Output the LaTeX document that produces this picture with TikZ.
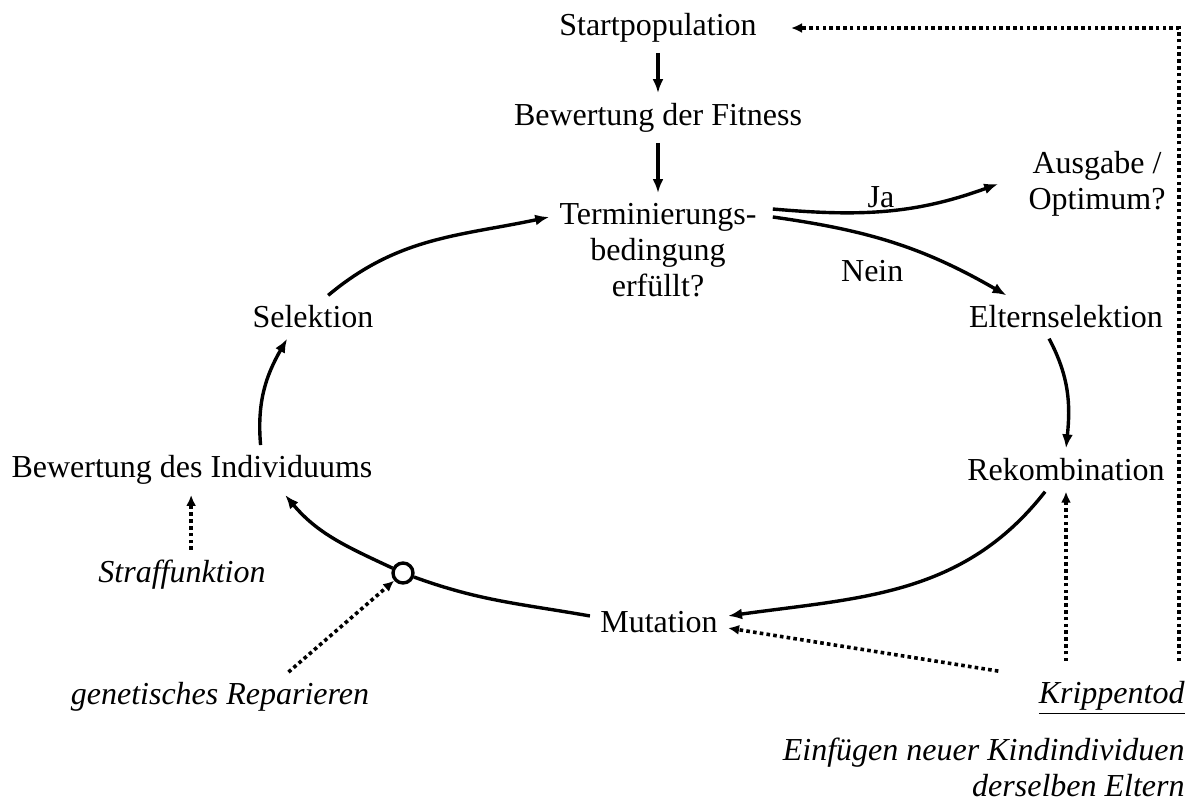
\documentclass[tikz,border=0pt]{standalone}
\usepackage{fontspec}
\setmainfont{Liberation Serif}
\usetikzlibrary{arrows.meta}

\begin{document}
\begin{tikzpicture}[x=0.5pt,y=0.5pt,
                font=\fontsize{16}{18}\selectfont,
                every node/.style={inner sep=5pt},
                flow/.style={line width=1.7pt,-{Latex[length=7pt,width=5.5pt]}},
                hint/.style={line width=1.8pt,dash pattern=on 1.8pt off 1.6pt,-{Latex[length=5.5pt,width=5pt]}}]
                \useasboundingbox (0,0) rectangle (1195,-810);
                \node (start) at (658,-28) {Startpopulation};
                \node (fitness) at (658,-118) {Bewertung der Fitness};
                \node[anchor=north,align=center] (term) at (658,-193) {Terminierungs-\\bedingung\\erfüllt?};
                \node[anchor=north,align=center] (output) at (1097,-141) {Ausgabe /\\Optimum?};
                \node (eltern) at (1066,-317) {Elternselektion};
                \node (rekomb) at (1066,-470) {Rekombination};
                \node (mut) at (659,-622) {Mutation};
                \node (indiv) at (192,-470) {Bewertung des Individuums};
                \node (sel) at (313,-317) {Selektion};
                \node (straf) at (182,-575) {\textit{Straffunktion}};
                \node (gen) at (220,-697) {\textit{genetisches Reparieren}};
                \node[anchor=east] (krip) at (1195,-698) {\underline{\textit{Krippentod}}};
                \node[anchor=north east,align=right] (einf) at (1195,-728) {\textit{Einfügen neuer Kindindividuen}\\\textit{derselben Eltern}};
                \node[circle,draw,fill=white,line width=1.7pt,minimum size=10pt,inner sep=0pt] (repair) at (403,-573) {};
                % main loop
                \draw[flow] (start) -- (fitness);
                \draw[flow] (fitness) -- (term);
                \draw[flow] ([xshift=3pt,yshift=-8pt]term.north east) to[out=-5,in=200]
                    node[pos=0.47,above,inner sep=1pt] (ja) {Ja} ([xshift=-10pt]output.west);
                \draw[flow] ([xshift=3pt,yshift=-12pt]term.north east) to[out=-8,in=150]
                    node[pos=0.4,below=10pt,inner sep=1pt] (nein) {Nein} (eltern.160);
                \draw[flow] (eltern.-128) to[out=-62,in=84] (rekomb.north);
                \draw[flow] (rekomb.-134) to[out=232,in=8] (mut.5);
                \draw[line width=1.7pt] (mut.175) to[out=170,in=-20] (repair);
                \draw[flow] (repair) to[out=155,in=-50] (indiv.-15);
                \draw[flow] (indiv.20) to[out=95,in=-120] (sel.-140);
                \draw[flow] (sel.55) to[out=40,in=192] ([yshift=-12pt]term.north west);
                % dotted hints
                \draw[hint] (straf.70) -- (straf.70 |- indiv.south);
                \draw[hint] (gen.20) -- (repair);
                \draw[hint,shorten <=5pt] (krip.north -| rekomb.south) -- (rekomb.south);
                \draw[hint] ([xshift=-15pt]krip.north west) -- (mut.-5);
                \draw[hint,shorten <=5pt] ([xshift=-8pt]krip.north east) |- ([xshift=12pt]start.east);
            \end{tikzpicture}
\end{document}
